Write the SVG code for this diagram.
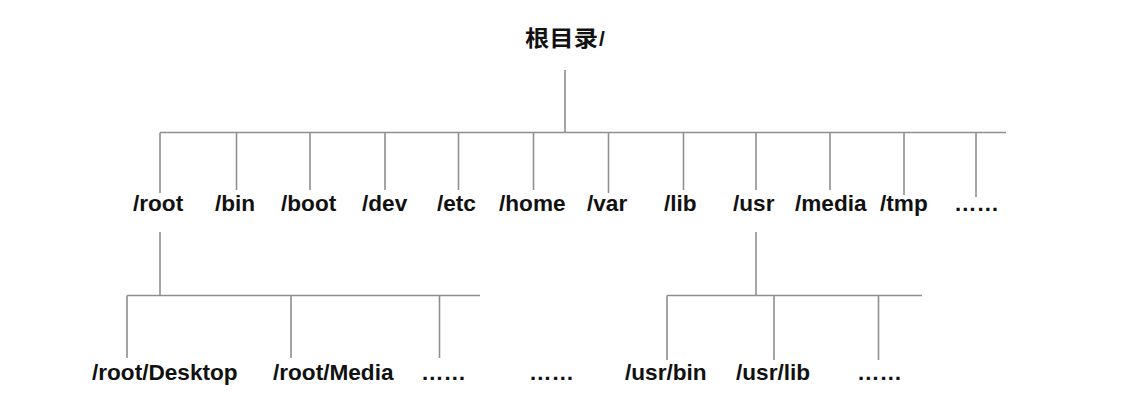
<svg xmlns="http://www.w3.org/2000/svg" width="1147" height="416" viewBox="0 0 1147 416">
<style>
.c line{stroke:#8f8f8f;stroke-width:1.6;fill:none}
text{font-family:"Liberation Sans",Arial,"Noto Sans CJK SC",sans-serif;font-weight:bold;font-size:22.6px;fill:#111}
.t{font-family:"Noto Sans CJK SC","Liberation Sans",sans-serif;font-size:22px}
</style>
<rect width="1147" height="416" fill="#fff"/>
<g id="connectors" class="c">
<line x1="565" y1="70" x2="565" y2="132.5"/>
<line x1="160" y1="132.5" x2="1006" y2="132.5"/>
<line x1="160" y1="132.5" x2="160" y2="193"/>
<line x1="236.5" y1="132.5" x2="236.5" y2="190"/>
<line x1="310" y1="132.5" x2="310" y2="190"/>
<line x1="385" y1="132.5" x2="385" y2="190"/>
<line x1="458.5" y1="132.5" x2="458.5" y2="190"/>
<line x1="533.5" y1="132.5" x2="533.5" y2="190"/>
<line x1="608.5" y1="132.5" x2="608.5" y2="193"/>
<line x1="683.5" y1="132.5" x2="683.5" y2="190"/>
<line x1="756" y1="132.5" x2="756" y2="190"/>
<line x1="830" y1="132.5" x2="830" y2="190"/>
<line x1="904" y1="132.5" x2="904" y2="195"/>
<line x1="976" y1="132.5" x2="976" y2="197"/>
<line x1="160" y1="232" x2="160" y2="295.5"/>
<line x1="127" y1="295.5" x2="480" y2="295.5"/>
<line x1="127" y1="295.5" x2="127" y2="358"/>
<line x1="291" y1="295.5" x2="291" y2="358"/>
<line x1="439.5" y1="295.5" x2="439.5" y2="358"/>
<line x1="756" y1="232" x2="756" y2="295.5"/>
<line x1="667" y1="295.5" x2="922" y2="295.5"/>
<line x1="667" y1="295.5" x2="667" y2="360"/>
<line x1="774" y1="295.5" x2="774" y2="360"/>
<line x1="878.5" y1="295.5" x2="878.5" y2="360"/>
</g>
<g id="n-rootdir"><text x="525" y="46"><tspan class="t" textLength="73" lengthAdjust="spacingAndGlyphs">根目录</tspan><tspan x="599" font-size="21">/</tspan></text></g>
<g id="n-root"><text x="133" y="211">/root</text></g>
<g id="n-bin"><text x="215" y="211">/bin</text></g>
<g id="n-boot"><text x="281" y="211">/boot</text></g>
<g id="n-dev"><text x="362" y="211">/dev</text></g>
<g id="n-etc"><text x="437" y="211">/etc</text></g>
<g id="n-home"><text x="499" y="211">/home</text></g>
<g id="n-var"><text x="587" y="211">/var</text></g>
<g id="n-lib"><text x="664" y="211">/lib</text></g>
<g id="n-usr"><text x="733" y="211">/usr</text></g>
<g id="n-media"><text x="795" y="211">/media</text></g>
<g id="n-tmp"><text x="880" y="211">/tmp</text></g>
<g id="n-more1"><text x="954" y="211">……</text></g>
<g id="n-desktop"><text x="92" y="380">/root/Desktop</text></g>
<g id="n-rmedia"><text x="273" y="380">/root/Media</text></g>
<g id="n-more2"><text x="421" y="380">……</text></g>
<g id="n-more3"><text x="529" y="380">……</text></g>
<g id="n-usrbin"><text x="625" y="380">/usr/bin</text></g>
<g id="n-usrlib"><text x="736" y="380">/usr/lib</text></g>
<g id="n-more4"><text x="857" y="380">……</text></g>
</svg>
